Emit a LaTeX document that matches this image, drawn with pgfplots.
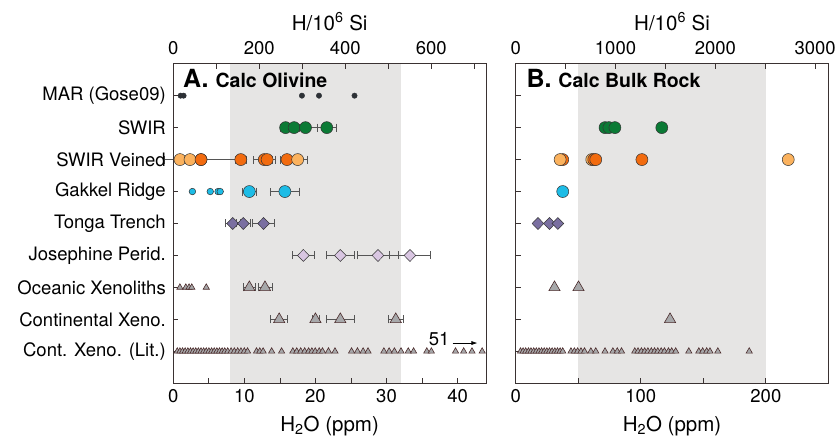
\documentclass[border=0pt]{standalone}
\usepackage{pgfplots}
\pgfplotsset{compat=1.18}
\usepackage{fontspec}
\setmainfont{TeX Gyre Heros}
\usetikzlibrary{arrows.meta}
\definecolor{grn}{HTML}{0B7A35}
\definecolor{dor}{HTML}{F26B0F}
\definecolor{lor}{HTML}{FBB25E}
\definecolor{cyn}{HTML}{1DBCE6}
\definecolor{ton}{HTML}{7A6FA0}
\definecolor{jos}{HTML}{D9C6E2}
\definecolor{trif}{HTML}{A7A8AA}
\definecolor{trie}{HTML}{4B2B2B}
\definecolor{marc}{HTML}{2D3136}
\definecolor{band}{HTML}{E6E5E4}
\definecolor{edge}{HTML}{333333}
\definecolor{errc}{HTML}{555555}
\definecolor{axc}{HTML}{3A3232}
\newcommand\lbl{\fontsize{18.5}{21}\selectfont}
\newcommand\albl{\fontsize{20.5}{23}\selectfont}
\pgfplotsset{
  base/.style={scale only axis, width=312.7pt, height=319.6pt, ymin=0, ymax=10,
    axis line style={color=axc, line width=0.8pt},
    every tick/.style={color=axc, line width=0.8pt},
    major tick length=5pt, tick align=inside,
    tick label style={font=\lbl}, label style={font=\albl},
    /pgf/number format/assume math mode=true,
    /pgf/number format/1000 sep={},
    axis on top, clip=false},
  eb/.style={error bars/.cd, x dir=both, x explicit, error mark=|,
    error bar style={color=errc, line width=0.6pt},
    error mark options={color=errc, line width=0.6pt, mark size=4pt}},
  bigc/.style={only marks, mark=*, mark size=6pt, mark options={fill=#1, draw=edge, line width=0.5pt}},
  smc/.style={only marks, mark=*, mark size=3.3pt, mark options={fill=#1, draw=edge, line width=0.5pt}},
  dia/.style={only marks, mark=diamond*, mark size=6pt, mark options={fill=#1, draw=edge, line width=0.5pt, xscale=1.3}},
  bigt/.style={only marks, mark=triangle*, mark size=6.5pt, mark options={fill=trif, draw=trie, line width=0.6pt}},
  smt/.style={only marks, mark=triangle*, mark size=3.6pt, mark options={fill=trif, draw=trie, line width=0.6pt}},
  mar/.style={only marks, mark=*, mark size=2.7pt, mark options={fill=marc, draw=marc}},
  botx/.style={xticklabel style={yshift=-3pt}, xlabel style={yshift=-6pt}},
  topx/.style={axis x line*=top, axis y line=none, xticklabel style={yshift=5pt}, xlabel style={yshift=4pt}},
}
\begin{document}
\begin{tikzpicture}
\useasboundingbox (0pt,0pt) rectangle (840pt,442pt);
% ---------------- Panel A ----------------
\begin{axis}[base, botx, at={(173.3pt,58.7pt)}, anchor=south west,
  xmin=0, xmax=44,
  xtick={0,5,...,40}, xticklabels={0,,10,,20,,30,,40},
  xtick pos=bottom, ytick pos=left,
  ytick={1,...,9},
  yticklabels={Cont. Xeno. (Lit.), Continental Xeno., Oceanic Xenoliths, Josephine Perid., Tonga Trench, Gakkel Ridge, SWIR Veined, SWIR, MAR (Gose09)},
  yticklabel style={xshift=-4pt},
  xlabel={H\textsubscript{2}O (ppm)}]
\addplot[fill=band, draw=none] coordinates {(8,0) (32,0) (32,10) (8,10)} -- cycle;
\node[anchor=base west, inner sep=0pt] at (rel axis cs:0.031,0.927) {\fontsize{25}{28}\selectfont\bfseries A. \fontsize{19.5}{22}\selectfont Calc Olivine};
% MAR
\addplot[mar] coordinates {(1.03,9) (1.45,9) (18.1,9) (20.5,9) (25.5,9)};
% SWIR
\addplot[bigc=grn, eb] table[x=x, y=y, x error=e] {
x y e
15.8 8 0.8
17.0 8 0.7
18.6 8 1.7
21.6 8 1.3
};
% SWIR Veined
\addplot[bigc=dor, eb] table[x=x, y=y, x error=e] {
x y e
3.9 7 5.2
9.5 7 0.8
12.8 7 1.5
13.2 7 0.7
16.0 7 1.0
};
\addplot[bigc=lor, eb] table[x=x, y=y, x error=e] {
x y e
0.94 7 0
2.35 7 0
17.5 7 1.3
};
\addplot[bigc=dor] coordinates {(3.9,7)};
% Gakkel
\addplot[smc=cyn] coordinates {(2.69,6) (5.2,6) (6.3,6) (6.6,6)};
\addplot[bigc=cyn, eb] table[x=x, y=y, x error=e] {
x y e
10.7 6 1.0
15.7 6 2.0
};
% Tonga
\addplot[dia=ton, eb] table[x=x, y=y, x error=e] {
x y e
8.36 5 1.0
9.85 5 1.0
12.7 5 1.55
};
% Josephine
\addplot[dia=jos, eb] table[x=x, y=y, x error=e] {
x y e
18.3 4 1.55
23.5 4 2.0
28.8 4 2.85
33.3 4 2.9
};
% Oceanic xenoliths
\addplot[smt] coordinates {(0.93,3) (1.76,3) (2.22,3) (2.6,3) (4.64,3)};
\addplot[bigt, eb] table[x=x, y=y, x error=e] {
x y e
10.7 3 0.8
12.9 3 1.0
};
% Continental xeno
\addplot[bigt, eb] table[x=x, y=y, x error=e] {
x y e
14.9 2 1.2
20.0 2 0.5
23.5 2 2.0
31.3 2 1.0
};
% Cont. Xeno (Lit.)
\addplot[smt] table[x=x, y=y] {
x y
0.56 1
0.93 1
1.30 1
1.67 1
2.05 1
2.42 1
2.79 1
3.16 1
3.53 1
3.90 1
4.27 1
4.64 1
5.01 1
5.39 1
5.76 1
6.13 1
6.50 1
6.87 1
7.24 1
7.66 1
8.13 1
8.59 1
9.06 1
9.52 1
9.99 1
10.45 1
11.71 1
12.17 1
12.64 1
13.84 1
15.24 1
16.82 1
17.37 1
17.93 1
18.49 1
19.04 1
19.50 1
19.97 1
20.53 1
20.99 1
21.83 1
22.75 1
25.08 1
25.91 1
26.71 1
27.40 1
29.63 1
30.37 1
31.11 1
32.04 1
33.06 1
33.81 1
35.67 1
36.31 1
39.71 1
40.86 1
42.03 1
43.46 1
};
\node[font=\lbl, anchor=base] at (axis cs:37.4,1.18) {51};
\draw[-{Latex[length=6pt,width=4pt]}, line width=0.7pt] (axis cs:39.3,1.26) -- (axis cs:42.8,1.26);
\end{axis}
\begin{axis}[base, topx, at={(173.3pt,58.7pt)}, anchor=south west,
  xmin=0, xmax=727.3,
  xtick={0,100,...,700}, xticklabels={0,,200,,400,,600,},
  xlabel={H/10\textsuperscript{6} Si}]
\end{axis}
% ---------------- Panel B ----------------
\begin{axis}[base, botx, at={(515.7pt,58.7pt)}, anchor=south west,
  xmin=0, xmax=250,
  xtick={0,50,...,250}, xticklabels={0,,100,,200,},
  xtick pos=bottom, ytick pos=left,
  ytick={1,...,9}, yticklabels={},
  xlabel={H\textsubscript{2}O (ppm)}]
\addplot[fill=band, draw=none] coordinates {(50,0) (200,0) (200,10) (50,10)} -- cycle;
\node[anchor=base west, inner sep=0pt] at (rel axis cs:0.034,0.927) {\fontsize{25}{28}\selectfont\bfseries B. \fontsize{19.5}{22}\selectfont Calc Bulk Rock};
% SWIR
\addplot[bigc=grn] coordinates {(71.4,8) (74.5,8) (79.3,8) (116.8,8)};
% SWIR Veined
\addplot[bigc=lor] coordinates {(60.8,7)};
\addplot[bigc=dor] coordinates {(37.6,7) (62.4,7) (64.0,7) (100.9,7)};
\addplot[bigc=lor] coordinates {(35.5,7) (217.9,7)};
% Gakkel
\addplot[bigc=cyn] coordinates {(37.6,6)};
% Tonga
\addplot[dia=ton] coordinates {(17.8,5) (27.0,5) (33.7,5)};
% Oceanic
\addplot[bigt] coordinates {(31.0,3) (50.2,3)};
% Continental
\addplot[bigt] coordinates {(123.4,2)};
% Lit
\addplot[smt] table[x=x, y=y] {
x y
3.85 1
5.9 1
8.0 1
10.2 1
12.2 1
14.4 1
16.5 1
18.6 1
20.7 1
22.8 1
24.9 1
27.0 1
29.1 1
31.3 1
33.4 1
35.5 1
37.6 1
44.2 1
46.9 1
49.5 1
52.2 1
55.0 1
60.1 1
64.0 1
71.4 1
77.7 1
81.2 1
84.6 1
95.2 1
97.8 1
100.5 1
103.1 1
105.7 1
108.4 1
111.0 1
113.6 1
116.3 1
118.9 1
122.1 1
124.7 1
127.9 1
138.4 1
146.4 1
149.5 1
152.7 1
155.3 1
161.6 1
186.7 1
};
\end{axis}
\begin{axis}[base, topx, at={(515.7pt,58.7pt)}, anchor=south west,
  xmin=0, xmax=3133,
  xtick={0,500,...,3000}, xticklabels={0,,1000,,2000,,3000},
  xlabel={H/10\textsuperscript{6} Si}]
\end{axis}
\end{tikzpicture}
\end{document}
